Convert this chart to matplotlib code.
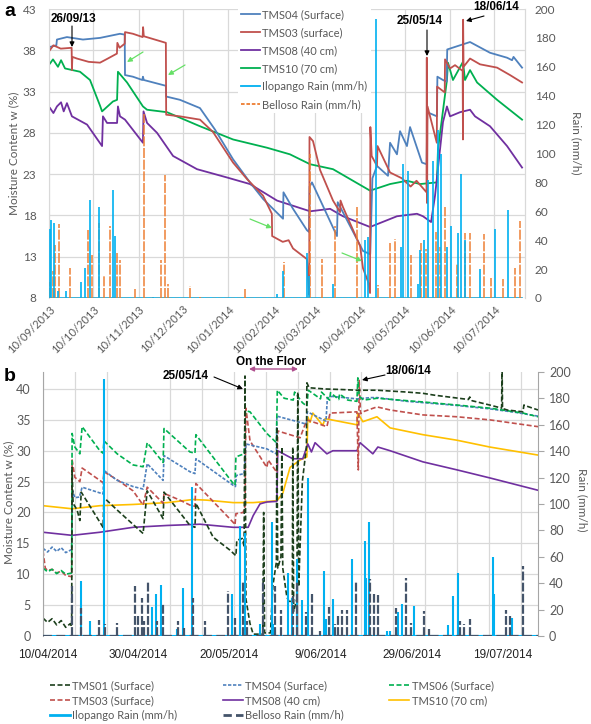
import numpy as np
import pandas as pd
import matplotlib
matplotlib.use('Agg')
import matplotlib.pyplot as plt
import matplotlib.dates as mdates
from matplotlib.lines import Line2D
from matplotlib.ticker import FixedLocator

W, H = 591, 724
plt.rcParams['font.family'] = ['Lato', 'DejaVu Sans']

# ---------------- DATA : panel a (days since 2013-09-10) ----------------
START_A = '2013-09-10'
tms04_a_day = [0.5, 5.0, 5.4, 12.2, 23.1, 34.7, 48.3, 51.5, 51.7, 57.1, 63.5, 63.9, 64.5, 79.5, 79.7, 89.1, 102.7, 112.9, 125.2, 136.7, 145.6, 159.2, 159.5, 166.0, 175.5, 176.9, 177.3, 178.9, 195.9, 196.4, 213.6, 218.5, 220.0, 223.1, 230.6, 232.0, 236.7, 238.8, 243.5, 245.6, 253.7, 256.9, 257.3, 263.9, 264.2, 268.0, 270.5, 270.9, 286.4, 300.0, 311.6, 315.0, 316.0, 321.8]
tms04_a_val = [38.4, 38.6, 39.3, 39.6, 39.3, 39.5, 40.0, 39.9, 35.0, 34.8, 34.4, 34.8, 34.4, 33.7, 32.4, 32.0, 31.0, 28.4, 24.8, 22.0, 20.0, 17.6, 20.8, 18.8, 16.2, 16.0, 21.5, 22.0, 15.5, 19.6, 13.7, 13.3, 22.5, 24.0, 22.8, 26.8, 25.4, 28.2, 26.4, 28.7, 24.4, 24.2, 30.5, 30.0, 34.8, 34.4, 34.2, 38.1, 39.0, 37.7, 37.1, 36.8, 37.2, 35.9]
tms03_a_day = [0.5, 3.0, 8.0, 15.4, 15.6, 15.9, 19.0, 27.0, 34.7, 40.0, 46.2, 46.5, 48.0, 51.5, 51.7, 57.1, 63.7, 64.0, 64.5, 79.5, 79.7, 89.1, 102.7, 111.6, 125.2, 134.7, 145.6, 151.6, 151.8, 159.0, 163.0, 166.0, 175.5, 176.2, 177.0, 177.2, 179.6, 184.4, 193.2, 198.0, 198.3, 200.0, 211.6, 213.6, 217.0, 218.4, 218.6, 219.5, 223.1, 223.5, 232.0, 240.0, 246.0, 250.0, 256.8, 257.0, 257.2, 257.5, 263.8, 264.0, 269.2, 269.4, 272.8, 276.2, 281.4, 281.6, 281.7, 282.0, 286.4, 293.2, 304.8, 313.6, 321.8]
tms03_a_val = [38.0, 38.6, 38.2, 38.3, 35.6, 37.2, 37.0, 36.6, 36.5, 37.0, 37.6, 38.9, 38.3, 38.8, 40.2, 40.0, 39.6, 40.8, 39.7, 38.9, 30.2, 30.0, 29.6, 28.1, 24.4, 22.4, 20.4, 18.2, 15.5, 14.8, 15.0, 14.0, 12.7, 10.5, 8.4, 27.5, 27.0, 23.5, 19.8, 18.4, 19.8, 19.0, 14.3, 11.6, 10.0, 8.6, 28.7, 25.2, 24.0, 26.4, 23.2, 22.5, 21.5, 22.2, 20.8, 37.1, 19.5, 31.2, 26.8, 33.6, 32.9, 36.9, 35.8, 36.2, 35.5, 27.2, 41.7, 36.0, 37.0, 36.3, 35.9, 35.0, 34.1]
tms08_a_day = [0.7, 3.0, 5.4, 8.2, 10.0, 12.2, 15.6, 25.9, 36.1, 36.7, 39.5, 46.3, 46.9, 48.3, 51.7, 63.9, 64.3, 66.7, 73.5, 84.4, 100.7, 121.0, 136.7, 155.1, 177.6, 191.2, 200.0, 218.4, 236.7, 250.3, 254.4, 259.9, 262.6, 268.0, 270.7, 272.8, 279.6, 286.4, 289.8, 300.0, 311.6, 321.8]
tms08_a_val = [31.0, 30.4, 31.2, 31.7, 30.6, 31.6, 30.0, 29.0, 26.4, 30.0, 29.2, 29.2, 31.2, 30.0, 29.6, 26.8, 30.6, 29.2, 28.0, 25.2, 23.6, 22.6, 21.8, 19.8, 18.5, 18.8, 17.9, 16.6, 17.9, 18.2, 17.9, 17.2, 20.4, 29.3, 31.2, 30.0, 30.5, 30.8, 30.0, 28.8, 26.4, 23.8]
tms10_a_day = [0.7, 2.7, 6.1, 8.2, 10.9, 21.1, 27.9, 34.7, 36.1, 43.5, 46.3, 46.9, 53.1, 63.9, 66.7, 80.3, 102.7, 125.2, 148.3, 163.9, 177.6, 193.2, 218.4, 232.0, 243.5, 252.4, 263.9, 264.6, 270.7, 271.4, 274.8, 281.6, 283.0, 286.4, 291.2, 304.8, 321.8]
tms10_a_val = [36.4, 36.9, 36.0, 36.8, 35.8, 35.4, 34.4, 31.3, 30.6, 31.8, 32.0, 35.4, 34.1, 31.2, 30.8, 30.5, 28.8, 27.2, 26.2, 25.4, 24.2, 23.6, 21.0, 21.8, 22.2, 21.8, 22.0, 26.0, 34.4, 36.5, 34.4, 36.6, 34.4, 35.6, 34.1, 32.0, 29.6]
ilo_a_day = [0.7, 1.4, 3.4, 6.1, 11.6, 21.8, 24.5, 27.9, 34.0, 43.5, 44.9, 70.7, 155.1, 159.2, 175.5, 177.0, 193.2, 215.0, 217.0, 222.4, 239.5, 240.8, 244.2, 251.0, 252.4, 255.0, 257.8, 261.2, 264.6, 266.7, 270.7, 273.5, 278.2, 280.3, 283.0, 293.2, 303.4, 312.2]
ilo_a_val = [48, 54, 52, 5, 5, 11, 21, 68, 63, 75, 43, 1, 3, 19, 31, 15, 10, 40, 42, 193, 35, 93, 88, 10, 33, 40, 82, 95, 116, 100, 35, 50, 45, 86, 40, 20, 48, 61]
bel_a_day = [0.7, 2.7, 4.1, 6.8, 14.3, 26.5, 29.3, 34.0, 37.4, 41.5, 46.3, 48.3, 58.5, 64.6, 76.2, 78.9, 81.0, 95.9, 102.7, 133.3, 159.9, 177.6, 185.7, 194.6, 209.5, 223.8, 232.0, 235.4, 246.3, 253.0, 256.5, 263.3, 266.0, 269.4, 277.6, 283.0, 286.4, 295.9, 300.7, 308.8, 317.0, 320.4]
bel_a_val = [11, 19, 37, 51, 21, 47, 30, 52, 16, 50, 32, 26, 6, 127, 26, 85, 10, 8, 1, 6, 25, 100, 27, 50, 63, 9, 38, 41, 30, 38, 34, 46, 35, 63, 24, 45, 45, 44, 14, 13, 21, 53]
ticks_a = ['2013-09-10', '2013-10-10', '2013-11-10', '2013-12-10', '2014-01-10', '2014-02-10',
           '2014-03-10', '2014-04-10', '2014-05-10', '2014-06-10', '2014-07-10']

# ---------------- DATA : panel b (days since 2014-04-09) ----------------
START_B = '2014-04-09'
tms01_b_day = [0, 1, 2, 3, 4, 5, 6, 6.3, 6.4, 6.6, 7.5, 8.1, 8.4, 13.2, 13.4, 16.3, 22.0, 22.9, 26.4, 26.6, 32.3, 33.4, 33.6, 37.4, 41.1, 42.4, 42.6, 43.8, 44.2, 44.4, 44.6, 45.5, 46.2, 48.3, 48.5, 48.7, 50.0, 50.5, 51.3, 51.4, 51.6, 52.3, 52.5, 52.7, 53.6, 54.3, 54.8, 54.9, 55.1, 55.8, 56.0, 56.2, 57.0, 57.9, 58.0, 58.5, 62.0, 66.0, 69.0, 73.4, 80.0, 83.5, 86.0, 93.5, 93.8, 94.3, 98.2, 100.8, 100.9, 101.0, 101.2, 102.0, 105.5, 105.7, 106.4, 108.8]
tms01_b_val = [2.9, 2.2, 2.8, 1.8, 2.5, 1.4, 2.0, 1.5, 27.3, 21.5, 20.4, 18.7, 23.3, 17.6, 22.4, 20.4, 16.6, 23.5, 19.0, 23.3, 17.9, 17.6, 21.5, 16.0, 13.9, 13.0, 15.5, 15.8, 14.5, 42.1, 6.0, 2.0, 0.3, 0.3, 20.0, 0.5, 0.5, 8.0, 12.0, 33.9, 11.0, 12.8, 30.6, 11.0, 6.3, 5.3, 6.0, 30.6, 4.0, 6.0, 39.5, 8.0, 25.0, 30.6, 41.0, 40.2, 40.0, 39.9, 39.8, 39.8, 39.5, 39.3, 39.0, 38.3, 38.7, 38.1, 37.4, 36.9, 44.0, 36.9, 36.8, 36.6, 36.3, 37.4, 37.2, 36.6]
tms04_b_day = [0, 1, 2, 3, 4, 5, 6.3, 6.5, 7.0, 8.0, 8.6, 13.2, 13.4, 16.3, 19.8, 22.0, 22.9, 26.4, 26.6, 32.3, 33.4, 33.6, 41.8, 42.3, 42.5, 44.2, 44.6, 49.2, 51.3, 51.4, 56.5, 57.9, 58.1, 62.2, 62.5, 63.5, 69.0, 72.0, 73.5, 80.0, 90.0, 98.0, 104.0, 108.8]
tms04_b_val = [14.2, 13.6, 14.4, 13.7, 14.3, 13.5, 14.0, 23.5, 22.4, 22.5, 24.1, 23.0, 26.8, 25.2, 24.2, 23.8, 27.9, 25.2, 29.2, 26.6, 26.3, 28.7, 24.4, 24.2, 26.0, 26.3, 31.1, 30.3, 29.5, 35.6, 34.6, 34.3, 36.3, 34.8, 38.5, 38.8, 38.4, 38.6, 38.6, 38.0, 37.4, 36.8, 36.2, 35.6]
tms03_b_day = [0, 0.5, 1, 2, 3, 4, 5, 6.3, 6.4, 7.0, 8.1, 8.6, 12.5, 13.2, 13.4, 16.3, 19.8, 22.0, 22.9, 26.4, 26.6, 30.1, 32.3, 33.4, 33.6, 41.8, 42.2, 42.4, 44.0, 44.4, 44.6, 45.5, 49.2, 49.5, 51.4, 51.6, 56.5, 58.0, 62.4, 63.1, 69.0, 69.3, 69.5, 69.8, 70.3, 73.4, 76.3, 83.5, 91.0, 98.2, 108.8]
tms03_b_val = [13.8, 11.0, 10.6, 10.8, 10.2, 10.5, 9.8, 9.6, 28.5, 25.7, 25.0, 27.2, 25.2, 24.8, 26.6, 25.3, 23.5, 21.2, 24.1, 21.5, 23.1, 22.0, 21.2, 21.0, 24.7, 18.4, 18.0, 19.8, 20.0, 21.0, 36.9, 31.6, 27.3, 28.5, 26.5, 33.2, 32.1, 35.0, 33.9, 36.1, 36.3, 26.9, 41.4, 36.0, 36.3, 37.1, 36.6, 35.8, 35.5, 35.0, 33.9]
tms06_b_day = [0, 1, 2, 3, 4, 5, 6.3, 6.4, 7.0, 8.1, 8.6, 12.5, 13.2, 13.4, 16.3, 19.8, 22.0, 22.9, 26.4, 26.6, 32.3, 33.4, 33.6, 41.8, 42.2, 42.4, 44.2, 44.5, 45.5, 49.2, 51.3, 51.5, 53.0, 55.0, 55.3, 57.0, 58.0, 58.3, 61.0, 61.2, 63.0, 63.2, 65.0, 65.2, 67.0, 69.0, 69.2, 69.5, 70.5, 73.4, 83.5, 91.0, 98.2, 105.5, 108.8]
tms06_b_val = [11.0, 10.4, 10.8, 10.1, 10.6, 10.0, 10.2, 32.8, 30.6, 29.5, 33.9, 30.0, 29.6, 31.6, 29.5, 27.7, 27.4, 31.3, 28.1, 33.6, 29.8, 29.6, 32.6, 24.7, 24.4, 29.0, 29.5, 36.5, 36.3, 32.8, 31.3, 39.8, 38.5, 38.2, 39.5, 37.8, 37.2, 39.8, 38.4, 39.5, 38.2, 39.4, 38.3, 39.2, 38.2, 38.0, 41.8, 38.8, 38.2, 38.5, 37.9, 37.4, 36.9, 36.1, 35.5]
tms08_b_day = [0, 6.4, 12.5, 19.8, 27.3, 34.5, 41.8, 45.1, 46.2, 47.7, 49.2, 51.4, 51.6, 53.6, 54.9, 57.1, 58.2, 59.0, 59.8, 62.4, 63.7, 69.0, 69.7, 72.5, 73.6, 76.3, 83.5, 91.0, 98.2, 108.8]
tms08_b_val = [16.8, 16.3, 16.8, 17.6, 17.9, 18.1, 17.6, 17.6, 19.5, 21.4, 21.7, 21.8, 30.0, 29.2, 28.7, 28.7, 31.1, 29.8, 31.3, 29.5, 30.0, 30.0, 31.3, 29.5, 30.6, 30.0, 28.2, 26.9, 25.6, 23.6]
tms10_b_day = [0, 6.4, 12.5, 19.8, 27.3, 33.0, 36.0, 41.8, 46.2, 51.4, 52.7, 54.3, 56.5, 58.0, 58.2, 58.7, 59.3, 61.5, 62.0, 69.0, 69.2, 70.3, 73.4, 76.3, 83.5, 91.0, 98.2, 108.8]
tms10_b_val = [21.1, 20.6, 21.1, 21.3, 21.6, 22.1, 22.0, 21.6, 21.6, 21.9, 23.1, 27.3, 28.5, 29.0, 35.5, 34.6, 36.1, 34.1, 35.2, 34.2, 36.1, 34.7, 35.5, 33.7, 32.6, 31.7, 30.6, 29.3]
ilo_b_day = [8.4, 10.3, 13.4, 24.0, 24.8, 25.9, 29.5, 30.8, 32.7, 41.5, 43.3, 44.4, 47.7, 50.3, 50.5, 53.8, 54.7, 55.8, 56.9, 58.2, 61.8, 62.2, 63.7, 67.9, 70.8, 71.0, 71.6, 75.6, 76.3, 78.0, 78.9, 81.5, 89.0, 90.1, 91.2, 98.9, 99.1, 103.1]
ilo_b_val = [42, 11, 195, 22, 32, 39, 5, 36, 113, 32, 83, 78, 9, 86, 9, 48, 29, 58, 27, 120, 49, 13, 28, 58, 72, 44, 86, 4, 4, 18, 24, 23, 8, 30, 48, 60, 32, 14]
bel_b_day = [6.4, 8.4, 12.3, 13.6, 16.3, 20.2, 20.9, 21.8, 22.2, 23.1, 25.1, 26.4, 29.7, 31.0, 33.0, 35.6, 40.7, 42.2, 44.0, 44.8, 48.4, 51.0, 52.3, 54.9, 55.8, 57.8, 59.1, 60.9, 62.9, 64.2, 64.8, 65.7, 66.8, 68.8, 71.9, 72.7, 73.6, 77.6, 79.8, 80.9, 83.7, 84.8, 91.6, 92.5, 93.8, 101.8, 102.6, 105.5]
bel_b_val = [38, 21, 12, 9, 10, 38, 15, 29, 11, 41, 11, 24, 11, 6, 29, 11, 34, 14, 42, 11, 43, 38, 20, 30, 42, 18, 32, 4, 22, 9, 16, 20, 20, 41, 43, 32, 31, 21, 44, 10, 19, 5, 11, 9, 13, 20, 16, 53]
ticks_b = ['2014-04-10', '2014-04-30', '2014-05-20', '2014-06-09', '2014-06-29', '2014-07-19']
ticklabels_b = ['10/04/2014', '30/04/2014', '20/05/2014', '9/06/2014', '29/06/2014', '19/07/2014']

# ---------------- styles ----------------
C04, C03, C08, C10a = '#4F81BD', '#C0504D', '#7030A0', '#00B050'
CILO, CBELa, C01, C06, C10b, CBELb = '#00B0F0', '#ED7D31', '#1C3F1C', '#00B050', '#FFC000', '#44546A'
GRID = '#D9D9D9'
TXT = '#595959'
DASH = (0, (3, 1.5))


def dts(start, days):
    return pd.Timestamp(start) + pd.to_timedelta(np.asarray(days, float), unit='D')


def P(x, y):
    return (x / W, 1 - y / H)


fig = plt.figure(figsize=(W / 100, H / 100), dpi=100)

# ================= panel a =================
axa = fig.add_axes([49 / W, 1 - 298 / H, (525 - 49) / W, (298 - 9) / H])
axa.set_axisbelow(True)
for d, v, c in [(tms10_a_day, tms10_a_val, C10a), (tms08_a_day, tms08_a_val, C08),
                (tms04_a_day, tms04_a_val, C04), (tms03_a_day, tms03_a_val, C03)]:
    axa.plot(dts(START_A, d), v, color=c, lw=1.3)
axa.set_ylim(8, 43)
axa.set_yticks(np.arange(8, 44, 5))
axa.set_xlim(pd.Timestamp(START_A), pd.Timestamp(START_A) + pd.Timedelta(days=323.8))
tka = pd.to_datetime(ticks_a)
axa.set_xticks(tka)
axa.set_xticklabels([t.strftime('%d/%m/%Y') for t in tka], rotation=45, ha='right',
                    rotation_mode='anchor', fontsize=8, color=TXT)
axa.tick_params(axis='x', length=0, pad=4)
axa.tick_params(axis='y', length=0, pad=9, labelsize=8.5, labelcolor=TXT)
axa.grid(True, color=GRID, lw=0.9)
for s in ['top', 'bottom']:
    axa.spines[s].set_visible(False)
for s in ['left', 'right']:
    axa.spines[s].set_color(GRID)

axa2 = axa.twinx()
ilo_a_t = dts(START_A, ilo_a_day)
bel_a_t = dts(START_A, bel_a_day)
axa2.plot([pd.Timestamp(START_A), dts(START_A, [321.8])[0]], [0, 0], color=CILO, lw=1.2)
axa2.vlines(bel_a_t, 0, bel_a_val, color=CBELa, lw=1.2, linestyles=[(0, (6, 1))], alpha=0.9)
axa2.vlines(ilo_a_t, 0, ilo_a_val, color=CILO, lw=1.2)
axa2.plot([pd.Timestamp(START_A), dts(START_A, [321.8])[0]], [0, 0], color=CBELa, lw=1.0, ls=DASH)
axa2.set_ylim(0, 200)
axa2.set_yticks(np.arange(0, 201, 20))
axa2.tick_params(axis='y', length=0, pad=7, labelsize=8.5, labelcolor=TXT)
for s in ['top', 'bottom', 'left']:
    axa2.spines[s].set_visible(False)
axa2.spines['right'].set_color(GRID)

h_a = [Line2D([], [], color=C04, lw=1.3, label='TMS04 (Surface)'),
       Line2D([], [], color=C03, lw=1.3, label='TMS03 (surface)'),
       Line2D([], [], color=C08, lw=1.3, label='TMS08 (40 cm)'),
       Line2D([], [], color=C10a, lw=1.3, label='TMS10 (70 cm)'),
       Line2D([], [], color=CILO, lw=1.3, label='Ilopango Rain (mm/h)'),
       Line2D([], [], color=CBELa, lw=1.3, ls=(0, (2, 1)), label='Belloso Rain (mm/h)')]
leg_a = axa2.legend(handles=h_a, loc='upper left', bbox_to_anchor=P(238, 6),
                    bbox_transform=fig.transFigure, fontsize=8, handlelength=1.7,
                    handletextpad=0.2, labelspacing=0.62, borderpad=0.3, borderaxespad=0,
                    frameon=True, fancybox=False)
leg_a.get_frame().set_facecolor('white')
leg_a.get_frame().set_edgecolor('none')
leg_a.get_frame().set_alpha(1)
for t in leg_a.get_texts():
    t.set_color(TXT)

fig.text(*P(14, 153), 'Moisture Content w (%)', rotation=90, ha='center', va='center',
         fontsize=8.5, color=TXT)
fig.text(*P(576, 143), 'Rain (mm/h)', rotation=-90, ha='center', va='center',
         fontsize=8.5, color=TXT)
fig.text(*P(4, 3), 'a', fontsize=14, fontweight='bold', family='Liberation Sans', va='top')

bold = dict(fontsize=8.5, fontweight='bold', family='Liberation Sans', ha='center', va='center')
fig.text(*P(73, 19), '26/09/13', **bold)
fig.text(*P(420, 21), '25/05/14', **bold)
fig.text(*P(496, 7), '18/06/14', **bold)


def arrow(ax, tail, tip, color='k', lw=0.8, ms=7, style='-|>'):
    ax.annotate('', xy=P(*tip), xytext=P(*tail), xycoords='figure fraction',
                textcoords='figure fraction', annotation_clip=False,
                arrowprops=dict(arrowstyle=style, color=color, lw=lw, mutation_scale=ms,
                                shrinkA=0, shrinkB=0))


arrow(axa2, (72, 26), (72, 47))
arrow(axa2, (427, 30), (427, 56))
arrow(axa2, (484, 16), (466, 21))
GA = '#66E066'
arrow(axa2, (143, 52), (127, 62), color=GA, lw=0.9)
arrow(axa2, (185, 65), (168, 75), color=GA, lw=0.9)
arrow(axa2, (250, 219), (272, 228), color=GA, lw=0.9)
arrow(axa2, (342, 253), (362, 261), color=GA, lw=0.9)

# ================= panel b =================
axb = fig.add_axes([43 / W, 1 - 636 / H, (538 - 43) / W, (636 - 372) / H])
axb.set_axisbelow(True)
for d, v, c, ls in [(tms10_b_day, tms10_b_val, C10b, '-'), (tms08_b_day, tms08_b_val, C08, '-'),
                    (tms03_b_day, tms03_b_val, C03, DASH), (tms04_b_day, tms04_b_val, C04, (0, (2, 1))),
                    (tms06_b_day, tms06_b_val, C06, DASH), (tms01_b_day, tms01_b_val, C01, DASH)]:
    axb.plot(dts(START_B, d), v, color=c, lw=1.2, ls=ls)
axb.set_ylim(0, 42.75)
axb.set_yticks(np.arange(0, 41, 5))
x0b = pd.Timestamp(START_B)
axb.set_xlim(x0b, x0b + pd.Timedelta(days=108.8))
axb.set_xticks(pd.to_datetime(ticks_b))
axb.set_xticklabels(ticklabels_b, fontsize=8.5, color='#222222', family='Liberation Sans')
weekly = x0b + pd.to_timedelta(np.arange(0, 109, 7), unit='D')
axb.xaxis.set_minor_locator(FixedLocator(mdates.date2num(weekly)))
axb.tick_params(axis='x', which='both', length=0, pad=9)
axb.tick_params(axis='y', length=0, pad=9, labelsize=9, labelcolor=TXT)
axb.grid(True, axis='y', color=GRID, lw=0.9)
axb.grid(True, axis='x', which='minor', color=GRID, lw=0.9)
axb.grid(False, axis='x', which='major')
for s in ['top', 'bottom', 'right']:
    axb.spines[s].set_visible(False)
axb.spines['left'].set_color('#A6A6A6')

axb2 = axb.twinx()
xe = x0b + pd.Timedelta(days=108.8)
axb2.plot([x0b, xe], [0, 0], color=CILO, lw=1.5)
axb2.vlines(dts(START_B, ilo_b_day), 0, ilo_b_val, color=CILO, lw=1.5)
axb2.vlines(dts(START_B, bel_b_day), 0, bel_b_val, color=CBELb, lw=1.6, linestyles=[(0, (4, 1))])
axb2.plot([x0b, xe], [0, 0], color=CBELb, lw=1.6, ls=(0, (4, 2)))
axb2.set_ylim(0, 200)
axb2.set_yticks(np.arange(0, 201, 20))
axb2.tick_params(axis='y', length=4, width=0.8, color='#A6A6A6', pad=4, labelsize=9, labelcolor=TXT)
for s in ['top', 'bottom', 'left']:
    axb2.spines[s].set_visible(False)
axb2.spines['right'].set_color('#A6A6A6')

fig.text(*P(9, 502), 'Moisture Content w (%)', rotation=90, ha='center', va='center',
         fontsize=8.5, color=TXT)
fig.text(*P(582, 500), 'Rain (mm/h)', rotation=-90, ha='center', va='center',
         fontsize=8.5, color=TXT)
fig.text(*P(4, 368), 'b', fontsize=14, fontweight='bold', family='Liberation Sans', va='top')
fig.text(*P(271, 362), 'On the Floor', **bold)
fig.text(*P(186, 376), '25/05/14', **bold)
fig.text(*P(408, 371), '18/06/14', **bold)
arrow(axb2, (249, 369), (298, 369), color='#B0508F', lw=1.0, ms=7, style='<|-|>')
arrow(axb2, (214, 377), (243, 389))
arrow(axb2, (385, 375), (362, 380))

h_b = [Line2D([], [], color=C01, lw=1.2, ls=DASH, label='TMS01 (Surface)'),
       Line2D([], [], color=C03, lw=1.2, ls=DASH, label='TMS03 (Surface)'),
       Line2D([], [], color=CILO, lw=2.0, label='Ilopango Rain (mm/h)'),
       Line2D([], [], color=C04, lw=1.2, ls=(0, (2, 1)), label='TMS04 (Surface)'),
       Line2D([], [], color=C08, lw=1.2, label='TMS08 (40 cm)'),
       Line2D([], [], color=CBELb, lw=2.0, ls=(0, (3, 1.5)), label='Belloso Rain (mm/h)'),
       Line2D([], [], color=C06, lw=1.2, ls=DASH, label='TMS06 (Surface)'),
       Line2D([], [], color=C10b, lw=1.2, label='TMS10 (70 cm)')]
leg_b = fig.legend(handles=h_b, ncol=3, loc='upper left', bbox_to_anchor=P(50, 680),
                   fontsize=8, handlelength=1.8, handletextpad=0.2, labelspacing=0.35,
                   columnspacing=4.1, frameon=False, borderpad=0, borderaxespad=0)
for t in leg_b.get_texts():
    t.set_color(TXT)

fig.savefig('out.png', dpi=100, facecolor='white')
